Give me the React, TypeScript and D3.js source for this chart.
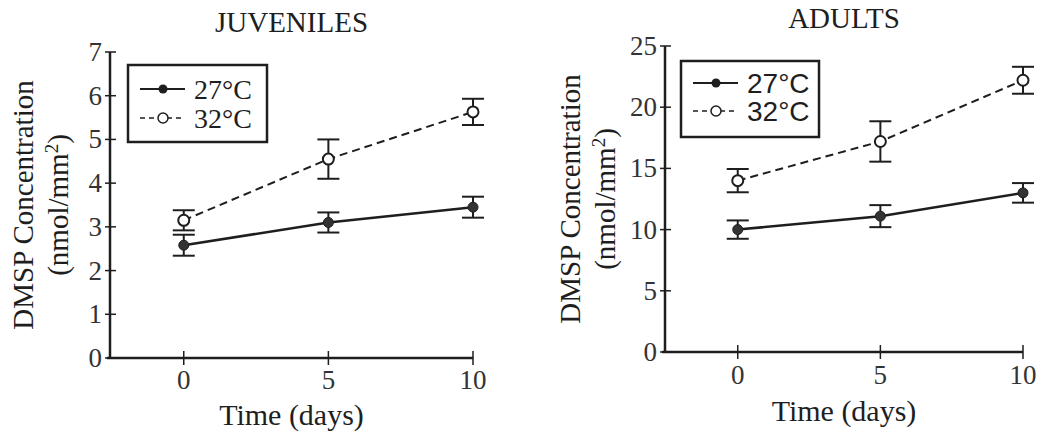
import React from 'react';
import * as d3 from 'd3';

// time points (days)
const days = [0, 5, 10];

// juveniles, DMSP nmol/mm2
const juv27 = [2.58, 3.1, 3.45];
const juv27Err = [0.24, 0.23, 0.24];
const juv32 = [3.15, 4.55, 5.63];
const juv32Err = [0.23, 0.45, 0.3];

// adults, DMSP nmol/mm2
const ad27 = [10.0, 11.1, 13.0];
const ad27Err = [0.75, 0.9, 0.8];
const ad32 = [14.0, 17.2, 22.2];
const ad32Err = [0.95, 1.65, 1.1];

const seriesNames = ['27°C', '32°C'];
const juvTicks = [0, 1, 2, 3, 4, 5, 6, 7];
const adTicks = [0, 5, 10, 15, 20, 25];

const serif = '"Liberation Serif", "Times New Roman", serif';
const sans = '"Liberation Sans", Arial, sans-serif';
const ink = '#1e1e1e';

type PanelProps = {
  title: string;
  left: number;
  right: number;
  top: number;
  bottom: number;
  yMax: number;
  yTicks: number[];
  lo: number[];
  loErr: number[];
  hi: number[];
  hiErr: number[];
  titleY: number;
  xLabelY: number;
  tickLabelY: number;
  yLabelX: number;
  legend: { x: number; y: number; w: number; h: number; row1: number; row2: number; font: string };
};

function Panel(p: PanelProps) {
  const x = d3.scaleLinear().domain([-2.55, 10]).range([p.left, p.right]);
  const y = d3.scaleLinear().domain([0, p.yMax]).range([p.bottom, p.top]);
  const line = d3
    .line<number>()
    .x((_, i) => x(days[i]))
    .y((d) => y(d));
  const cx = (p.left + p.right) / 2;
  const cy = (p.top + p.bottom) / 2;
  const cap = 11;

  const errBars = (vals: number[], errs: number[]) =>
    vals.map((v, i) => (
      <g key={i} stroke={ink} strokeWidth={2}>
        <line x1={x(days[i])} x2={x(days[i])} y1={y(v + errs[i])} y2={y(v - errs[i])} />
        <line x1={x(days[i]) - cap} x2={x(days[i]) + cap} y1={y(v + errs[i])} y2={y(v + errs[i])} />
        <line x1={x(days[i]) - cap} x2={x(days[i]) + cap} y1={y(v - errs[i])} y2={y(v - errs[i])} />
      </g>
    ));

  const lg = p.legend;
  return (
    <g>
      <text x={cx} y={p.titleY} textAnchor="middle" fontFamily={serif} fontSize={29} fill={ink}>
        {p.title}
      </text>
      {/* axes */}
      <line x1={p.left} x2={p.left} y1={y(p.yMax)} y2={p.bottom} stroke={ink} strokeWidth={2.5} />
      <line x1={p.left - 3} x2={x(10)} y1={p.bottom} y2={p.bottom} stroke={ink} strokeWidth={2.5} />
      {p.yTicks.map((t) => (
        <g key={t}>
          <line x1={p.left - 5} x2={p.left + 6} y1={y(t)} y2={y(t)} stroke={ink} strokeWidth={1.5} />
          <text x={p.left - 8} y={y(t) + 9} textAnchor="end" fontFamily={serif} fontSize={27} fill="#333">
            {t}
          </text>
        </g>
      ))}
      {days.map((d) => (
        <g key={d}>
          <line x1={x(d)} x2={x(d)} y1={p.bottom - 7} y2={p.bottom + 7} stroke={ink} strokeWidth={1.5} />
          <text x={x(d)} y={p.tickLabelY} textAnchor="middle" fontFamily={serif} fontSize={27} fill="#333">
            {d}
          </text>
        </g>
      ))}
      <text x={cx} y={p.xLabelY} textAnchor="middle" fontFamily={serif} fontSize={30} fill={ink}>
        Time (days)
      </text>
      <text
        transform={`translate(${p.yLabelX},${cy}) rotate(-90)`}
        textAnchor="middle"
        fontFamily={serif}
        fontSize={29}
        fill={ink}
      >
        <tspan x={0} dy={0}>DMSP Concentration</tspan>
        <tspan x={0} dy={35}>(nmol/mm</tspan>
        <tspan dy={-10} fontSize={19}>2</tspan>
        <tspan dy={10}>)</tspan>
      </text>
      {/* series */}
      <path d={line(p.hi) || ''} fill="none" stroke={ink} strokeWidth={2} strokeDasharray="8,5" />
      <path d={line(p.lo) || ''} fill="none" stroke={ink} strokeWidth={2.5} />
      {errBars(p.hi, p.hiErr)}
      {errBars(p.lo, p.loErr)}
      {p.hi.map((v, i) => (
        <circle key={'h' + i} cx={x(days[i])} cy={y(v)} r={5.5} fill="#fff" stroke={ink} strokeWidth={2} />
      ))}
      {p.lo.map((v, i) => (
        <circle key={'l' + i} cx={x(days[i])} cy={y(v)} r={5} fill="#333" stroke={ink} strokeWidth={1} />
      ))}
      {/* legend */}
      <rect x={lg.x} y={lg.y} width={lg.w} height={lg.h} fill="#fff" stroke={ink} strokeWidth={2.5} />
      <line x1={lg.x + 12} x2={lg.x + 57} y1={lg.row1} y2={lg.row1} stroke={ink} strokeWidth={2} />
      <circle cx={lg.x + 35} cy={lg.row1} r={4.5} fill={ink} />
      <line x1={lg.x + 12} x2={lg.x + 57} y1={lg.row2} y2={lg.row2} stroke={ink} strokeWidth={1.5} strokeDasharray="5,4" />
      <circle cx={lg.x + 35} cy={lg.row2} r={5} fill="#fff" stroke={ink} strokeWidth={1.5} />
      <text x={lg.x + 66} y={lg.row1 + 10} fontFamily={lg.font} fontSize={28} fill={ink}>
        {seriesNames[0]}
      </text>
      <text x={lg.x + 66} y={lg.row2 + 10} fontFamily={lg.font} fontSize={28} fill={ink}>
        {seriesNames[1]}
      </text>
    </g>
  );
}

export default function App() {
  return (
    <svg width={1040} height={434} style={{ position: 'absolute', left: 0, top: 0, background: '#fff' }}>
      <Panel
        title="JUVENILES"
        left={110}
        right={473}
        top={52}
        bottom={358}
        yMax={7}
        yTicks={juvTicks}
        lo={juv27}
        loErr={juv27Err}
        hi={juv32}
        hiErr={juv32Err}
        titleY={32}
        xLabelY={425}
        tickLabelY={389}
        yLabelX={33}
        legend={{ x: 128, y: 65, w: 139, h: 77, row1: 89, row2: 118, font: serif }}
      />
      <Panel
        title="ADULTS"
        left={665}
        right={1023}
        top={46}
        bottom={352}
        yMax={25}
        yTicks={adTicks}
        lo={ad27}
        loErr={ad27Err}
        hi={ad32}
        hiErr={ad32Err}
        titleY={28}
        xLabelY={421}
        tickLabelY={384}
        yLabelX={580}
        legend={{ x: 681, y: 61, w: 138, h: 76, row1: 83, row2: 111, font: sans }}
      />
    </svg>
  );
}
